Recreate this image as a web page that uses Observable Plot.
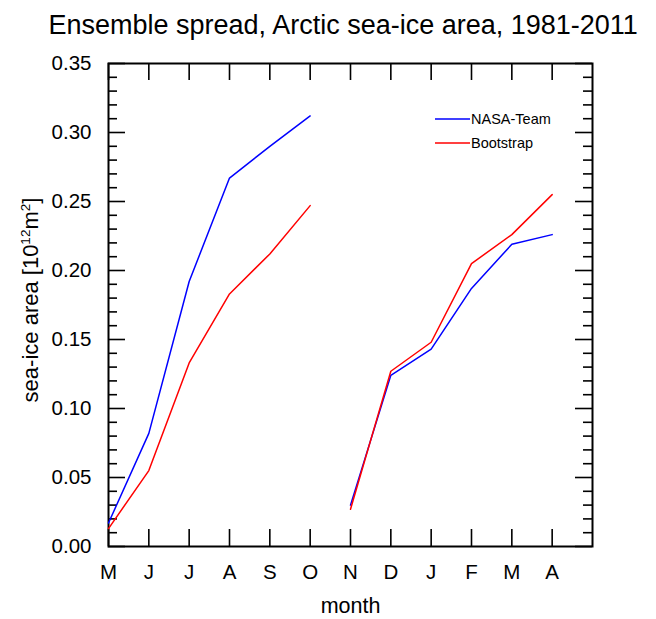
<!DOCTYPE html>
<html>
<head>
<meta charset="utf-8">
<script src="https://cdn.jsdelivr.net/npm/d3@7"></script>
<script src="https://cdn.jsdelivr.net/npm/@observablehq/plot@0.6"></script>
<style>
  html, body { margin: 0; padding: 0; background: #fff; }
  #chart svg { display: block; }
</style>
</head>
<body>
<div id="chart"></div>
<script>
const title = "Ensemble spread, Arctic sea-ice area, 1981-2011";
const months = ["M","J","J","A","S","O","N","D","J","F","M","A"];
const nasaTeam  = [0.017, 0.082, 0.192, 0.267, 0.290, 0.312, 0.030, 0.124, 0.143, 0.187, 0.219, 0.226];
const bootstrap = [0.013, 0.055, 0.133, 0.183, 0.212, 0.247, 0.027, 0.127, 0.148, 0.205, 0.226, 0.255];
const seriesNames = ["NASA-Team", "Bootstrap"];
const seriesColors = ["#0000ff", "#ff0000"];
const yMajorTicks = [0, 0.05, 0.10, 0.15, 0.20, 0.25, 0.30, 0.35];
const yMinorTicks = d3.range(0, 36).map(i => i / 100).filter(v => Math.round(v * 100) % 5 !== 0);
const xTicks = months.map((m, i) => i);
const yLabel = "sea-ice area [10¹²m²]";

const W = 656, H = 619;
const mL = 108, mR = 64, mT = 63, mB = 73;
const fw = W - mL - mR, fh = H - mT - mB;
const major = 17, minor = 9;

const rows = [];
[nasaTeam, bootstrap].forEach((vals, s) => {
  vals.forEach((v, i) => rows.push({series: seriesNames[s], i, v, seg: seriesNames[s] + (i < 6 ? "-a" : "-b")}));
});

const font = "'Liberation Sans', Arial, Helvetica, sans-serif";

const chart = Plot.plot({
  width: W, height: H,
  marginLeft: mL, marginRight: mR, marginTop: mT, marginBottom: mB,
  style: {fontFamily: font, background: "#fff", color: "#000"},
  x: {domain: [0, 12], axis: null},
  y: {domain: [0, 0.35], axis: null},
  marks: [
    Plot.axisX({ticks: xTicks, tickFormat: i => months[i], tickSize: 0, tickPadding: 18, fontSize: 20.5, label: null}),
    Plot.axisY({ticks: yMajorTicks, tickFormat: d3.format(".2f"), tickSize: 0, tickPadding: 17, fontSize: 20.5, label: null}),
    // inward ticks
    Plot.tickX(xTicks, {x: d => d, insetTop: fh - major, stroke: "black", strokeWidth: 1.6}),
    Plot.tickX(xTicks, {x: d => d, insetBottom: fh - major, stroke: "black", strokeWidth: 1.6}),
    Plot.tickY(yMajorTicks, {y: d => d, insetRight: fw - major, stroke: "black", strokeWidth: 1.6}),
    Plot.tickY(yMajorTicks, {y: d => d, insetLeft: fw - major, stroke: "black", strokeWidth: 1.6}),
    Plot.tickY(yMinorTicks, {y: d => d, insetRight: fw - minor, stroke: "black", strokeWidth: 1.6}),
    Plot.tickY(yMinorTicks, {y: d => d, insetLeft: fw - minor, stroke: "black", strokeWidth: 1.6}),
    Plot.frame({stroke: "black", strokeWidth: 2}),
    Plot.line(rows.filter(d => d.series === seriesNames[0]), {x: "i", y: "v", z: "seg", stroke: seriesColors[0], strokeWidth: 1.5}),
    Plot.line(rows.filter(d => d.series === seriesNames[1]), {x: "i", y: "v", z: "seg", stroke: seriesColors[1], strokeWidth: 1.5}),
    Plot.text([title], {frameAnchor: "top-left", dx: 48 - mL, dy: 33 - mT, textAnchor: "start", lineAnchor: "bottom", fontSize: 27, fill: "black"}),
    Plot.text(["month"], {frameAnchor: "bottom", dy: 612 - (H - mB), lineAnchor: "bottom", fontSize: 21.5, fill: "black"}),
    Plot.text([yLabel], {frameAnchor: "left", rotate: -90, dx: 30 - mL, dy: -5, lineAnchor: "middle", textAnchor: "middle", fontSize: 22, fill: "black"})
  ]
});

const svg = d3.select(chart);

// real superscripts in the y label
svg.selectAll("text").filter(function() { return this.textContent === yLabel; }).each(function() {
  const t = d3.select(this);
  t.text(null);
  t.append("tspan").text("sea-ice area [10");
  t.append("tspan").attr("dy", -8).attr("font-size", 13.5).text("12");
  t.append("tspan").attr("dy", 8).text("m");
  t.append("tspan").attr("dy", -8).attr("font-size", 13.5).text("2");
  t.append("tspan").attr("dy", 8).text("]");
});

// legend (layout only)
const lg = svg.append("g").attr("font-family", font).attr("font-size", 14.5).attr("text-anchor", "start");
seriesNames.forEach((name, k) => {
  const y = 119 + k * 24;
  lg.append("line").attr("x1", 435).attr("x2", 470).attr("y1", y).attr("y2", y)
    .attr("stroke", seriesColors[k]).attr("stroke-width", 1.5);
  lg.append("text").attr("x", 471).attr("y", y + 5).attr("fill", "black").attr("text-anchor", "start").text(name);
});

document.getElementById("chart").appendChild(chart);
</script>
</body>
</html>
